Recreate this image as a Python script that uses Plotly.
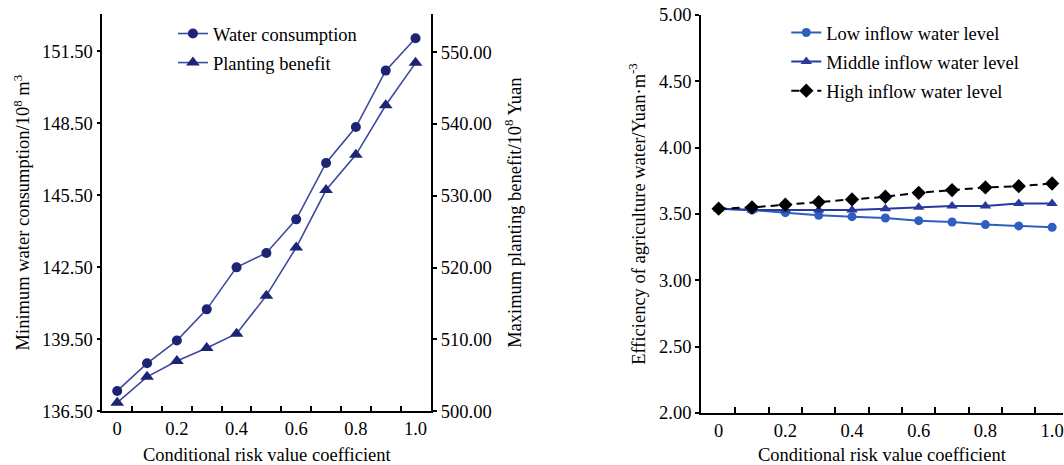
import plotly.graph_objects as go

# ---- data ----
risk_coef = [0.0, 0.1, 0.2, 0.3, 0.4, 0.5, 0.6, 0.7, 0.8, 0.9, 1.0]
water_consumption = [137.35, 138.5, 139.45, 140.75, 142.5, 143.1, 144.5, 146.85, 148.35, 150.7, 152.05]
planting_benefit = [501.2, 504.8, 507.0, 508.8, 510.8, 516.1, 522.8, 530.8, 535.7, 542.6, 548.5]
low_inflow = [3.54, 3.53, 3.51, 3.49, 3.48, 3.47, 3.45, 3.44, 3.42, 3.41, 3.40]
middle_inflow = [3.54, 3.53, 3.53, 3.53, 3.53, 3.54, 3.55, 3.56, 3.56, 3.58, 3.58]
high_inflow = [3.54, 3.55, 3.57, 3.59, 3.61, 3.63, 3.66, 3.68, 3.70, 3.71, 3.73]

x_tick_vals = [0, 0.2, 0.4, 0.6, 0.8, 1.0]
x_tick_text = ["0", "0.2", "0.4", "0.6", "0.8", "1.0"]
x_minor_vals = [0.05, 0.15, 0.25, 0.35, 0.45, 0.55, 0.65, 0.75, 0.85, 0.95]
left_y_ticks = [136.5, 139.5, 142.5, 145.5, 148.5, 151.5]
right_y_ticks = [500, 510, 520, 530, 540, 550]
eff_y_ticks = [2.0, 2.5, 3.0, 3.5, 4.0, 4.5, 5.0]

FONT = "Liberation Serif"
FS = 18.5
NAVY = "#1e2474"
NAVY_LINE = "#3d4a9e"
LOW_C = "#2e5fbf"
MID_C = "#28389c"

fig = go.Figure()

fig.add_trace(go.Scatter(
    x=risk_coef, y=water_consumption, name="Water consumption",
    mode="lines+markers", xaxis="x", yaxis="y",
    line=dict(color=NAVY_LINE, width=1.6),
    marker=dict(symbol="circle", size=10, color=NAVY),
    legend="legend", legendgroup="a"))
fig.add_trace(go.Scatter(
    x=risk_coef, y=planting_benefit, name="Planting benefit",
    mode="lines+markers", xaxis="x", yaxis="y2",
    line=dict(color=NAVY_LINE, width=1.6),
    marker=dict(symbol="triangle-up", size=12, color=NAVY),
    legend="legend", legendgroup="b"))

fig.add_trace(go.Scatter(
    x=risk_coef, y=low_inflow, name="Low inflow water level",
    mode="lines+markers", xaxis="x2", yaxis="y3",
    line=dict(color=LOW_C, width=2),
    marker=dict(symbol="circle", size=9, color=LOW_C),
    legend="legend2", legendgroup="c"))
fig.add_trace(go.Scatter(
    x=risk_coef, y=middle_inflow, name="Middle inflow water level",
    mode="lines+markers", xaxis="x2", yaxis="y3",
    line=dict(color=MID_C, width=2),
    marker=dict(symbol="triangle-up", size=10, color=MID_C),
    legend="legend2", legendgroup="d"))
fig.add_trace(go.Scatter(
    x=risk_coef, y=high_inflow, name="High inflow water level",
    mode="lines+markers", xaxis="x2", yaxis="y3",
    line=dict(color="black", width=2, dash="8px,5px"),
    marker=dict(symbol="diamond", size=11, color="black"),
    legend="legend2", legendgroup="e"))

W, H = 1064, 465
ML, MR, MT, MB = 100, 0, 14, 50
PW, PH = W - ML - MR, H - MT - MB


def dx(px):
    return (px - ML) / PW


def dy(py):
    return (H - MB - py) / PH


axis_common = dict(
    showline=True, linecolor="black", linewidth=1.5, showgrid=False, zeroline=False,
    tickfont=dict(family=FONT, size=FS, color="black"), mirror=False,
)

xcommon = dict(
    axis_common,
    tickmode="array", tickvals=x_tick_vals, ticktext=x_tick_text, ticks="",
    ticklabelstandoff=0, ticklabeloverflow="allow",
    minor=dict(tickmode="array", tickvals=x_minor_vals, ticks="inside", ticklen=6,
               tickwidth=1.5, tickcolor="black"),
    title=dict(text="Conditional risk value coefficient",
               font=dict(family=FONT, size=FS, color="black"), standoff=11),
)

fig.update_layout(
    width=W, height=H,
    margin=dict(l=ML, r=MR, t=MT, b=MB),
    paper_bgcolor="white", plot_bgcolor="white",
    font=dict(family=FONT, size=FS, color="black"),
    xaxis=dict(xcommon, domain=[dx(102.3), dx(431.7)], range=[-0.05, 1.053], anchor="y"),
    yaxis=dict(axis_common, domain=[dy(413.3), dy(14)], range=[136.5, 153.06], anchor="x",
               tickmode="array", tickvals=left_y_ticks, tickformat=".2f",
               ticks="outside", ticklen=4, tickwidth=1.5, tickcolor="black",
               title=dict(text="Minimum water consumption/10<sup>8</sup> m<sup>3</sup>",
                          font=dict(family=FONT, size=FS, color="black"), standoff=7)),
    yaxis2=dict(axis_common, domain=[dy(413.3), dy(14)], range=[500, 555.3],
                overlaying="y", side="right", anchor="x",
                tickmode="array", tickvals=right_y_ticks, tickformat=".2f",
                ticks="outside", ticklen=4, tickwidth=1.5, tickcolor="black",
                title=dict(text="Maximum planting benefit/10<sup>8</sup> Yuan",
                           font=dict(family=FONT, size=FS, color="black"), standoff=17)),
    xaxis2=dict(xcommon, domain=[dx(701.5), 1.0], range=[-0.0533, 1.0327], anchor="y3"),
    yaxis3=dict(axis_common, domain=[dy(415), dy(15)], range=[2.0, 5.0], anchor="x2",
                tickmode="array", tickvals=eff_y_ticks, tickformat=".2f",
                ticks="outside", ticklen=4, tickwidth=1.5, tickcolor="black",
                title=dict(text="Efficiency of agriculture water/Yuan·m<sup>-3</sup>",
                           font=dict(family=FONT, size=FS, color="black"), standoff=9)),
    legend=dict(x=dx(173), y=dy(15), xanchor="left", yanchor="top",
                xref="paper", yref="paper",
                font=dict(family=FONT, size=FS, color="black"),
                bgcolor="rgba(0,0,0,0)", traceorder="grouped", tracegroupgap=2,
                itemwidth=30),
    legend2=dict(x=dx(787), y=dy(14), xanchor="left", yanchor="top",
                 xref="paper", yref="paper",
                 font=dict(family=FONT, size=FS, color="black"),
                 bgcolor="rgba(0,0,0,0)", traceorder="grouped", tracegroupgap=2,
                 itemwidth=30),
)

fig.write_html("out.html", config={"displayModeBar": False},
               post_script="document.body.style.margin='0';")
